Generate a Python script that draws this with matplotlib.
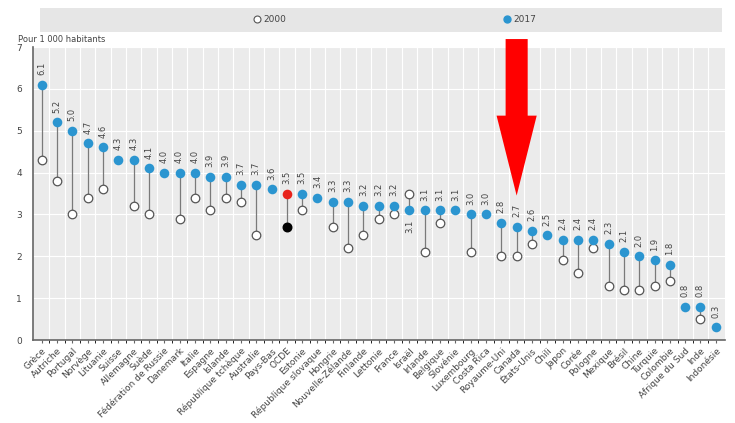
import numpy as np
import matplotlib.pyplot as plt
from matplotlib.patches import Rectangle, Polygon
from matplotlib.lines import Line2D

# doctors per 1 000 inhabitants, 2000 and 2017
countries = ["Grèce", "Autriche", "Portugal", "Norvège", "Lituanie", "Suisse",
             "Allemagne", "Suède", "Fédération de Russie", "Danemark", "Italie",
             "Espagne", "Islande", "République tchèque", "Australie", "Pays-Bas",
             "OCDE", "Estonie", "République slovaque", "Hongrie", "Nouvelle-Zélande",
             "Finlande", "Lettonie", "France", "Israël", "Irlande", "Belgique",
             "Slovénie", "Luxembourg", "Costa Rica", "Royaume-Uni", "Canada",
             "États-Unis", "Chili", "Japon", "Corée", "Pologne", "Mexique",
             "Brésil", "Chine", "Turquie", "Colombie", "Afrique du Sud", "Inde",
             "Indonésie"]
v2017 = [6.1, 5.2, 5.0, 4.7, 4.6, 4.3, 4.3, 4.1, 4.0, 4.0, 4.0, 3.9, 3.9, 3.7, 3.7,
         3.6, 3.5, 3.5, 3.4, 3.3, 3.3, 3.2, 3.2, 3.2, 3.1, 3.1, 3.1, 3.1, 3.0, 3.0,
         2.8, 2.7, 2.6, 2.5, 2.4, 2.4, 2.4, 2.3, 2.1, 2.0, 1.9, 1.8, 0.8, 0.8, 0.3]
v2000 = [4.3, 3.8, 3.0, 3.4, 3.6, np.nan, 3.2, 3.0, np.nan, 2.9, 3.4, 3.1, 3.4, 3.3,
         2.5, np.nan, 2.7, 3.1, np.nan, 2.7, 2.2, 2.5, 2.9, 3.0, 3.5, 2.1, 2.8, np.nan,
         2.1, np.nan, 2.0, 2.0, 2.3, np.nan, 1.9, 1.6, 2.2, 1.3, 1.2, 1.2, 1.3, 1.4,
         np.nan, 0.5, np.nan]
highlight = "OCDE"
arrow_target = "Canada"

blue = "#2b95d0"
red = "#e8231b"
bg = "#ebebeb"
txt = "#444444"

fig = plt.figure(figsize=(7.35, 4.23), dpi=100)
ax = fig.add_axes([33 / 735, 1 - 340 / 423, 692 / 735, 293 / 423])
ax.set_facecolor(bg)

x = np.arange(len(countries))
a17 = np.array(v2017)
a00 = np.array(v2000)

# connectors
for i in x:
    if not np.isnan(a00[i]):
        ax.plot([i, i], [a00[i], a17[i]], color="#7a7a7a", lw=0.9, zorder=2)

is_h = np.array([c == highlight for c in countries])
ax.scatter(x[~is_h], a00[~is_h], s=38, facecolor="white", edgecolor="#555555",
           linewidth=0.9, zorder=3)
ax.scatter(x[is_h], a00[is_h], s=38, facecolor="black", edgecolor="black", zorder=3)
ax.scatter(x[~is_h], a17[~is_h], s=48, color=blue, zorder=4, linewidth=0)
ax.scatter(x[is_h], a17[is_h], s=48, color=red, zorder=4, linewidth=0)

for i in x:
    below = not np.isnan(a00[i]) and a00[i] > a17[i]
    ax.annotate(f"{a17[i]:.1f}", (i, a17[i]), xytext=(0, -7 if below else 7),
                textcoords="offset points", rotation=90, ha="center",
                va="top" if below else "bottom", fontsize=6, color=txt)

ax.set_xlim(-0.57, len(countries) - 0.4)
ax.set_ylim(0, 7)
ax.set_yticks(range(8))
ax.set_xticks(x)
ax.set_xticklabels(countries, rotation=45, ha="right", rotation_mode="anchor",
                   fontsize=6.5, color=txt)
ax.tick_params(axis="y", length=0, labelsize=6.5, labelcolor=txt, pad=8)
ax.tick_params(axis="x", length=2.5, color="#666666", pad=2)

ax.set_xticks(x[:-1] + 0.5, minor=True)
ax.grid(True, which="minor", axis="x", color="white", lw=0.8)
ax.grid(True, which="major", axis="y", color="white", lw=0.8)
ax.set_axisbelow(True)
for s in ["top", "right"]:
    ax.spines[s].set_visible(False)
for s in ["left", "bottom"]:
    ax.spines[s].set_color("#666666")
    ax.spines[s].set_linewidth(1.2)

fig.text(18 / 735, 1 - 40 / 423, "Pour 1 000 habitants", fontsize=6, color=txt,
         va="center", ha="left")

# legend band
fig.patches.append(Rectangle((40 / 735, 1 - 32 / 423), 682 / 735, 24 / 423,
                             transform=fig.transFigure, facecolor="#e6e6e6",
                             edgecolor="none", zorder=0))
ly = 1 - 19 / 423
fig.add_artist(Line2D([257 / 735], [ly], marker="o", ms=5, mfc="white",
                      mec="#555555", mew=0.8, transform=fig.transFigure))
fig.text(263 / 735, ly, "2000", fontsize=6.5, color=txt, va="center")
fig.add_artist(Line2D([507 / 735], [ly], marker="o", ms=5, mfc=blue,
                      mec=blue, transform=fig.transFigure))
fig.text(513 / 735, ly, "2017", fontsize=6.5, color=txt, va="center")

# red arrow overlay
k = countries.index(arrow_target)
tip = a17[k] + 0.75
arrow = Polygon([[k - 0.72, 7.19], [k + 0.72, 7.19], [k + 0.72, 5.36],
                 [k + 1.31, 5.36], [k, tip], [k - 1.31, 5.36], [k - 0.72, 5.36]],
                closed=True, facecolor="#ff0000", edgecolor="none", zorder=10,
                clip_on=False)
ax.add_patch(arrow)

fig.savefig("out.png", dpi=100)
